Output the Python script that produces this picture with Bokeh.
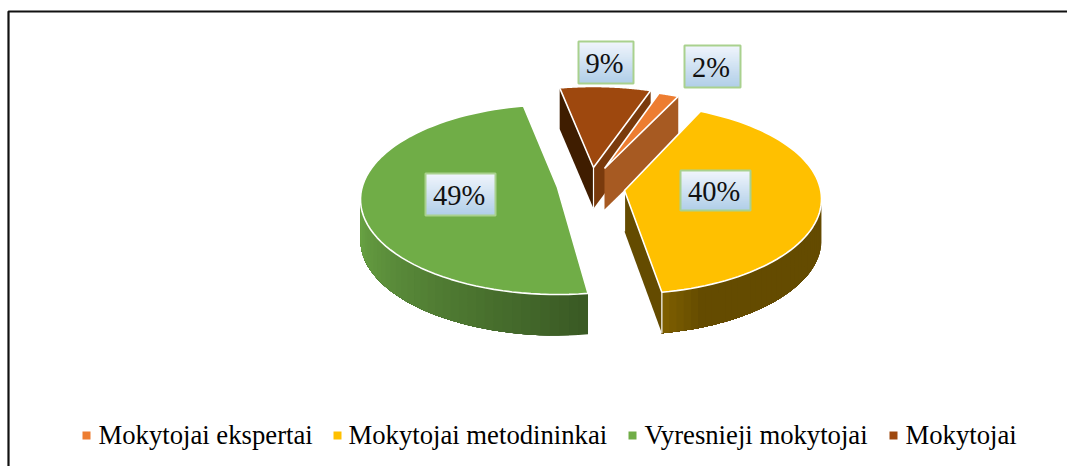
import numpy as np
from bokeh.plotting import figure
from bokeh.embed import file_html
from bokeh.resources import INLINE
from bokeh.core.properties import value

categories = ["Mokytojai ekspertai", "Mokytojai metodininkai", "Vyresnieji mokytojai", "Mokytojai"]
values = [2, 40, 49, 9]
labels = ["2%", "40%", "49%", "9%"]
colors = ["#ED7D31", "#FFC000", "#70AD47", "#9E480E"]
apex_x = [604, 624, 557, 593]
apex_y = [168, 190, 187, 167]
slice_rot = [1.5, 0, 2.2, 2]
slice_d = [16, 8.5, 12, 14]
box_l = [684, 680, 425, 578]
box_r = [740, 750, 495, 633]
box_t = [45, 170, 173, 41]
box_b = [87, 210, 215, 83]
legend_sq_x = [86, 337, 632, 893]
legend_tx_x = [98, 348, 644, 905]

W, H = 1067, 466
RX, RY, DEPTH, K, T0 = 197, 95, 41, 0.5, 18.4

p = figure(width=W, height=H, x_range=(0, W), y_range=(H, 0), toolbar_location=None,
           output_backend="svg", min_border=0, outline_line_color=None, background_fill_color="white")
p.axis.visible = False
p.grid.visible = False

# frame of the picture
p.line([8, 8, W], [H, 11, 11], line_color="#111111", line_width=2.2)


def rim(ax, ay, th, D):
    """Ray from the apex along the pie angle, cut with the perspective ellipse."""
    t = np.radians(th)
    dx, dy = np.sin(t), -K * np.cos(t)
    a = (dx / RX) ** 2 + (dy / RY) ** 2
    b = 2 * dy * (-D) / RY ** 2
    c = D ** 2 / RY ** 2 - 1
    s = (-b + np.sqrt(b * b - 4 * a * c)) / (2 * a)
    return ax + s * dx, ay + s * dy


def lerp(c1, c2, f):
    a = [int(c1[i:i + 2], 16) for i in (1, 3, 5)]
    b = [int(c2[i:i + 2], 16) for i in (1, 3, 5)]
    return "#%02x%02x%02x" % tuple(int(round(u + (v - u) * f)) for u, v in zip(a, b))


def wall(x0, y0, x1, y1, color):
    p.patch([x0, x1, x1, x0], [y0, y1, y1 + DEPTH, y0 + DEPTH], fill_color=color, fill_alpha=1,
            line_color=None)


def curved_wall(xs, ys, colfn):
    """Painter's gradient: every band runs on to the end of the wall, so no seams show."""
    n = len(xs)
    for m in range(0, n - 1):
        bx = list(xs[m:]) + list(xs[m:][::-1])
        by = list(ys[m:]) + [y + DEPTH for y in ys[m:][::-1]]
        p.patch(bx, by, fill_color=colfn(m / (n - 2)), fill_alpha=1, line_color=None)


spans = []
start = T0
for v in values:
    spans.append((start, start + v * 3.6))
    start += v * 3.6

# paint back to front: Mokytojai, ekspertai, then the two big slices
for i in [3, 0, 2, 1]:
    a0, a1 = spans[i]
    ax, ay, D = apex_x[i], apex_y[i], slice_d[i]
    ths = np.linspace(a0 + slice_rot[i], a1 + slice_rot[i], 70)
    pts = [rim(ax, ay, t, D) for t in ths]
    xs = [q[0] for q in pts]
    ys = [q[1] for q in pts]
    front = [j for j in range(len(xs)) if ys[j] >= ay + D]
    fx = [xs[j] for j in front]
    fy = [ys[j] for j in front]
    if i == 3:
        wall(ax, ay, xs[0], ys[0], "#3f1d00")
        wall(ax, ay, xs[-1], ys[-1], "#7a3a0c")
    elif i == 0:
        wall(ax, ay, xs[-1], ys[-1], "#a75a22")
    elif i == 1:
        wall(ax, ay, xs[-1], ys[-1], "#644b00")
        curved_wall(fx, fy, lambda f: "#644b00" if f < 0.85 else lerp("#644b00", "#7d5e00", (f - 0.85) / 0.15))
    elif i == 2:
        curved_wall(fx, fy, lambda f: lerp("#3a5a24", "#69a344", f))
    p.patch([ax] + xs, [ay] + ys, fill_color=colors[i], fill_alpha=1, line_color="white", line_width=1.6)
    if i in (1, 3):
        p.line([ax, ax], [ay, ay + DEPTH], line_color="white", line_width=1.2)
    if i == 1:
        p.line([xs[-1], xs[-1]], [ys[-1], ys[-1] + DEPTH], line_color="white", line_width=1.2)

# data labels
for i in range(4):
    l, r, t, b = box_l[i], box_r[i], box_t[i], box_b[i]
    n = int(b - t)
    for j in range(n):
        p.quad(left=[l], right=[r], top=[t + j], bottom=[b], fill_alpha=1,
               fill_color=lerp("#f0f5fc", "#b0cee8", j / (n - 1)), line_color=None)
    p.quad(left=[l], right=[r], top=[t], bottom=[b], fill_color=None, line_color="#A9D18E", line_width=2)
    p.text([(l + r) / 2 - 1.5], [(t + b) / 2 + 1], text=[labels[i]], text_font=value("Liberation Serif"),
           text_font_size="28.5px", text_color="#111111", text_align="center", text_baseline="middle")

# legend
for i in range(4):
    p.quad(left=[legend_sq_x[i] - 4], right=[legend_sq_x[i] + 4], top=[431], bottom=[439], fill_alpha=1,
           fill_color=colors[i], line_color=None)
    p.text([legend_tx_x[i]], [434], text=[categories[i]], text_font=value("Liberation Serif"),
           text_font_size="26.7px", text_color="black", text_align="left", text_baseline="middle")

open("out.html", "w").write(file_html(p, INLINE))
